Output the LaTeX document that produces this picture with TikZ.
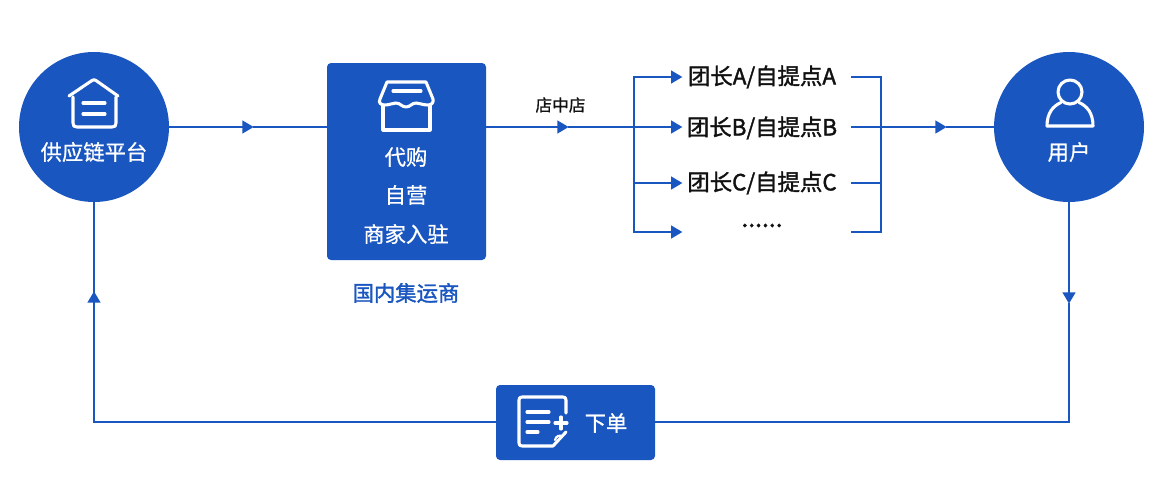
\documentclass[tikz,border=0pt]{standalone}
\usepackage{fontspec}
\setmainfont{Noto Sans CJK SC}
\newfontfamily\medfont[FakeBold=1.6]{Noto Sans CJK SC}
\newfontfamily\lightmed[FakeBold=0.8]{Noto Sans CJK SC}
\usetikzlibrary{arrows.meta}
\definecolor{brand}{HTML}{1A56C0}
\definecolor{ink}{HTML}{111111}
\tikzset{
  x=0.75pt,y=-0.75pt,
  flow/.style={draw=brand,line width=1.8pt},
  tipped/.style={flow,-{Triangle[length=8.5pt,width=9.5pt]},shorten >=-0.5pt},
  blob/.style={circle,fill=brand,draw=none,minimum size=112.5pt,inner sep=0pt},
  card/.style={rectangle,rounded corners=3pt,fill=brand,draw=none,inner sep=0pt},
  whitetext/.style={text=white,font=\lightmed\fontsize{16pt}{18pt}\selectfont,inner sep=0pt},
  bluetext/.style={text=brand,font=\medfont\fontsize{16pt}{18pt}\selectfont,inner sep=0pt},
  smalltext/.style={text=ink,font=\lightmed\fontsize{12.5pt}{15pt}\selectfont,inner sep=0pt},
  branchtext/.style={text=ink,font=\medfont\fontsize{16.8pt}{18pt}\selectfont,inner sep=0pt,minimum width=120pt,minimum height=15pt},
  icon/.style={draw=white,line width=2.3pt,line cap=round,line join=round},
}
\begin{document}
\begin{tikzpicture}
\useasboundingbox (0,0) rectangle (1157,479);
% main shapes
\node[blob] (supply) at (94,127) {};
\node[blob] (user) at (1069,127) {};
\node[card,minimum width=119.25pt,minimum height=147.75pt] (agent) at (406.5,161.5) {};
\node[card,minimum width=119.25pt,minimum height=56.25pt] (order) at (575.5,422.5) {};
% texts
\node[whitetext] (supplytext) at (94,152) {供应链平台};
\node[whitetext] (usertext) at (1069,152) {用户};
\node[whitetext] (t1) at (406,157) {代购};
\node[whitetext] (t2) at (406,195) {自营};
\node[whitetext] (t3) at (406,234) {商家入驻};
\node[bluetext] (t4) at (406,293) {国内集运商};
\node[whitetext] (ordertext) at (606,423) {下单};
\node[smalltext] (shop) at (560.5,105) {店中店};
\node[branchtext] (la) at (762,77) {团长A/自提点A};
\node[branchtext] (lb) at (762,128) {团长B/自提点B};
\node[branchtext] (lc) at (762,183) {团长C/自提点C};
\node[branchtext] (ld) at (762,232) {};
\node[text=ink,font=\medfont\fontsize{18.5pt}{18pt}\selectfont,inner sep=0pt] (ldtext) at (762,225.5) {......};
% helper coordinates
\coordinate (m1) at (253,127);
\coordinate (m2) at (568,127);
\coordinate (j1) at (634,127);
\coordinate (j2) at (881,127);
\coordinate (m3) at (946,127);
\coordinate (ja) at (634,77);
\coordinate (jd) at (634,232);
\coordinate (ra) at (881,77);
\coordinate (rd) at (881,232);
\coordinate (jc) at (634,183);
\coordinate (rc) at (881,183);
\coordinate (m4) at (1069,303);
\coordinate (c1) at (1069,422);
\coordinate (c2) at (94,422);
\coordinate (m5) at (94,292);
% connectors
\draw[tipped] (supply.east) -- (m1);
\draw[flow] (m1) -- (agent.west |- m1);
\draw[tipped] (agent.east |- m2) -- (m2);
\draw[flow] (m2) -- (j1);
\draw[flow,line cap=rect] (ja) -- (jd);
\draw[tipped] (ja) -- (la.west |- ja);
\draw[tipped] (j1) -- (lb.west |- j1);
\draw[tipped] (jc) -- (lc.west |- jc);
\draw[tipped] (jd) -- (ld.west |- jd);
\draw[flow] ([xshift=6.75pt]la.east) -- (ra) -- (rd) -- ([xshift=6.75pt]ld.east);
\draw[flow] ([xshift=6.75pt]lb.east |- j2) -- (j2);
\draw[flow] ([xshift=6.75pt]lc.east) -- (rc);
\draw[tipped] (j2) -- (m3);
\draw[flow] (m3) -- (user.west);
\draw[tipped] (user.south) -- (m4);
\draw[flow] (m4) -- (c1) -- (order.east |- c1);
\draw[flow] (order.west |- c2) -- (c2) -- (m5);
\draw[tipped] (c2) -- (m5);
\draw[flow] (m5) -- (supply.south);
% house icon
\draw[icon] (69,96) -- (92,80.5) .. controls (93.5,79.5) and (94.5,79.5) .. (96,80.5) -- (118,96);
\draw[icon] (73,97) -- (73,123) .. controls (73,126) and (74,127) .. (77,127) -- (112,127) .. controls (115,127) and (116,126) .. (116,123) -- (116,97);
\draw[icon] (83,103) -- (105,103);
\draw[icon] (83,114) -- (105,114);
% store icon
\draw[icon] (387,82) -- (426,82) -- (433,99) .. controls (434,103) and (431,105) .. (428,105)
  .. controls (422,105) and (420,103) .. (416,103) .. controls (412,103) and (410,107) .. (406,107)
  .. controls (402,107) and (400,103) .. (396,103) .. controls (392,103) and (390,105) .. (385,105)
  .. controls (381,105) and (378,103) .. (380,99) -- cycle;
\draw[icon] (383,106) -- (383,130) -- (430,130) -- (430,106);
\draw[icon] (393,91) -- (421,91);
% user icon
\draw[icon] (1070,92) circle (12);
\draw[icon] (1047,126) .. controls (1047,113) and (1053,106) .. (1061,102.5);
\draw[icon] (1079,102.5) .. controls (1087,106) and (1093,113) .. (1093,126) -- (1047,126);
% order icon
\draw[icon] (566,413) -- (566,400) .. controls (566,398) and (565,397) .. (563,397) -- (522,397) .. controls (520,397) and (519,398) .. (519,400) -- (519,443) .. controls (519,445) and (520,446) .. (522,446) -- (553,446) -- (566,432);
\draw[icon] (527,412) -- (549,412);
\draw[icon] (527,422) -- (549,422);
\draw[icon] (527,432) -- (538,432);
\draw[icon] (561,417) -- (561,429);
\draw[icon] (555,423) -- (567,423);
\draw[icon,line width=1.6pt] (555,440) .. controls (556,436) and (559,435) .. (562,436);
\end{tikzpicture}
\end{document}
